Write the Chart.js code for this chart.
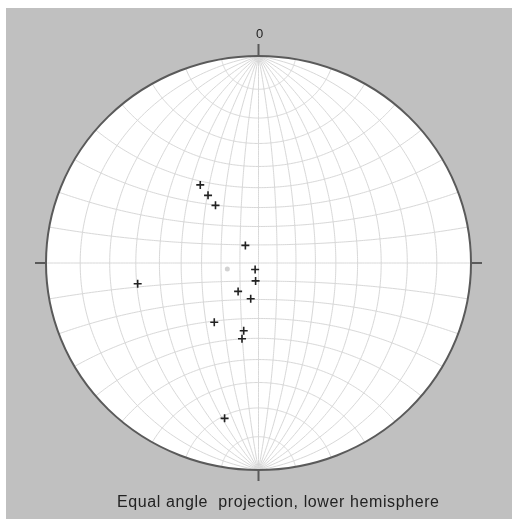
<!DOCTYPE html>
<html>
<head>
<meta charset="utf-8">
<script src="https://cdn.jsdelivr.net/npm/chart.js@4"></script>
<style>
  html, body { margin: 0; padding: 0; background: #ffffff; }
  #net { display: block; }
</style>
</head>
<body>
<canvas id="net" width="512" height="519"></canvas>
<script>
// lineations (trend / plunge, degrees)
const trends  = [324, 324, 324, 324, 207, 189, 215, 192, 216, 192, 192, 260, 192];
const plunges = [ 40,  46,  52,  78,  86,  80,  71,  70,  51,  53,  49,  30,  15];
// faint grey point near the centre
const meanTrend  = [259];
const meanPlunge = [73];

const gridStep = 10;
const captionText = 'Equal angle  projection, lower hemisphere';
const northLabel = '0';

const rad = Math.PI / 180;

// equal angle (Wulff), lower hemisphere
function project(trend, plunge) {
    const r = Math.tan((90 - plunge) / 2 * rad);
    return { x: r * Math.sin(trend * rad), y: r * Math.cos(trend * rad) };
}

// vector on the sphere -> net coords, polar axis N-S
function projectVec(e, n, d) {
    return { x: e / (1 + d), y: n / (1 + d) };
}

const points = trends.map((t, i) => project(t, plunges[i]));
const meanPoints = meanTrend.map((t, i) => project(t, meanPlunge[i]));

const netPlugin = {
    id: 'wulffNet',
    beforeDraw(chart) {
        const ctx = chart.ctx;
        ctx.save();
        ctx.fillStyle = '#ffffff';
        ctx.fillRect(0, 0, chart.width, chart.height);
        ctx.fillStyle = '#c0c0c0';
        ctx.fillRect(6, 8, chart.width - 6, chart.height - 8);
        ctx.restore();
    },
    beforeDatasetsDraw(chart) {
        const ctx = chart.ctx;
        const sx = chart.scales.x, sy = chart.scales.y;
        const px = v => sx.getPixelForValue(v);
        const py = v => sy.getPixelForValue(v);
        const cx = px(0), cy = py(0);
        const rx = px(1) - cx, ry = cy - py(1);

        ctx.save();
        ctx.fillStyle = '#ffffff';
        ctx.beginPath();
        ctx.ellipse(cx, cy, rx, ry, 0, 0, 2 * Math.PI);
        ctx.fill();

        ctx.strokeStyle = '#d8d8d8';
        ctx.lineWidth = 1;

        // great circles (meridians)
        for (let lam = -90 + gridStep; lam < 90; lam += gridStep) {
            ctx.beginPath();
            for (let lat = -90; lat <= 90; lat += 1) {
                const c = Math.cos(lat * rad);
                const p = projectVec(c * Math.sin(lam * rad), Math.sin(lat * rad), c * Math.cos(lam * rad));
                if (lat === -90) ctx.moveTo(px(p.x), py(p.y)); else ctx.lineTo(px(p.x), py(p.y));
            }
            ctx.stroke();
        }
        // small circles (latitudes)
        for (let lat = -90 + gridStep; lat < 90; lat += gridStep) {
            ctx.beginPath();
            const c = Math.cos(lat * rad);
            for (let lam = -90; lam <= 90; lam += 1) {
                const p = projectVec(c * Math.sin(lam * rad), Math.sin(lat * rad), c * Math.cos(lam * rad));
                if (lam === -90) ctx.moveTo(px(p.x), py(p.y)); else ctx.lineTo(px(p.x), py(p.y));
            }
            ctx.stroke();
        }

        // primitive
        ctx.strokeStyle = '#5a5a5a';
        ctx.lineWidth = 2;
        ctx.beginPath();
        ctx.ellipse(cx, cy, rx, ry, 0, 0, 2 * Math.PI);
        ctx.stroke();

        // ticks
        ctx.beginPath();
        ctx.moveTo(cx, py(1)); ctx.lineTo(cx, py(1) - 12);
        ctx.moveTo(cx, py(-1)); ctx.lineTo(cx, py(-1) + 11);
        ctx.moveTo(px(-1), cy); ctx.lineTo(px(-1) - 11, cy);
        ctx.moveTo(px(1), cy); ctx.lineTo(px(1) + 11, cy);
        ctx.stroke();

        ctx.fillStyle = '#222222';
        ctx.textAlign = 'center';
        ctx.textBaseline = 'alphabetic';
        ctx.font = '13px "Liberation Sans", Arial, sans-serif';
        ctx.fillText(northLabel, cx + 1, py(1) - 18);
        ctx.font = '16px "Liberation Sans", Arial, sans-serif';
        ctx.letterSpacing = '0.6px';
        ctx.textAlign = 'left';
        ctx.fillText(captionText, 117, 507);
        ctx.restore();
    }
};

new Chart(document.getElementById('net'), {
    type: 'scatter',
    data: {
        datasets: [{
            data: meanPoints,
            pointStyle: 'circle',
            pointRadius: 2.5,
            backgroundColor: '#d2d2d2',
            borderColor: '#d2d2d2',
            borderWidth: 0
        }, {
            data: points,
            pointStyle: 'cross',
            pointRadius: 4,
            borderColor: '#222222',
            borderWidth: 1.6
        }]
    },
    options: {
        responsive: false,
        animation: false,
        events: [],
        layout: { padding: { left: 46, right: 41, top: 56, bottom: 49 } },
        scales: {
            x: { type: 'linear', min: -1, max: 1, display: false },
            y: { type: 'linear', min: -1, max: 1, display: false }
        },
        plugins: {
            legend: { display: false },
            tooltip: { enabled: false },
            title: { display: false }
        }
    },
    plugins: [netPlugin]
});
</script>
</body>
</html>
